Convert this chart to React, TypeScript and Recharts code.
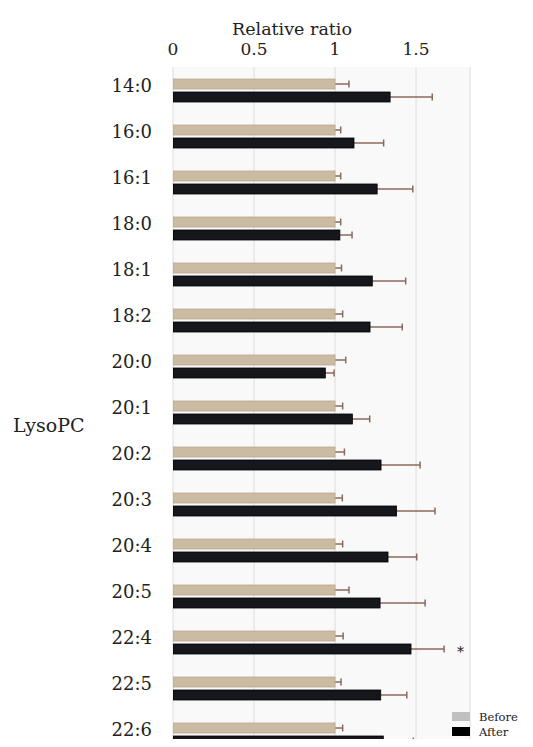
import { Bar, BarChart, CartesianGrid, XAxis, YAxis } from "recharts";

const categories = ["14:0", "16:0", "16:1", "18:0", "18:1", "18:2", "20:0", "20:1", "20:2", "20:3", "20:4", "20:5", "22:4", "22:5", "22:6"];
const beforeValues = [1, 1, 1, 1, 1, 1, 1, 1, 1, 1, 1, 1, 1, 1, 1];
const beforeErrors = [0.086, 0.035, 0.035, 0.035, 0.04, 0.047, 0.066, 0.047, 0.058, 0.045, 0.047, 0.086, 0.05, 0.037, 0.047];
const afterValues = [1.34, 1.117, 1.26, 1.03, 1.23, 1.216, 0.94, 1.107, 1.284, 1.38, 1.327, 1.278, 1.469, 1.282, 1.298];
const afterErrors = [0.26, 0.183, 0.22, 0.075, 0.206, 0.199, 0.054, 0.107, 0.241, 0.237, 0.177, 0.278, 0.204, 0.161, 0.185];
const significance = ["", "", "", "", "", "", "", "", "", "", "", "", "*", "", ""];
const xTicks = [0, 0.5, 1, 1.5];

const data = categories.map((name, i) => ({
  name,
  before: beforeValues[i],
  beforeErr: beforeErrors[i],
  after: afterValues[i],
  afterErr: afterErrors[i],
  sig: significance[i],
}));

const FONT = "'DejaVu Serif', serif";
const TEXT = "#222";
const ERR = "#8a6a5c";

function barWithError(errKey: "beforeErr" | "afterErr", valueKey: "before" | "after", stroke: string) {
  return (props: any) => {
    const { x, y, width, height, fill, payload } = props;
    const v = payload[valueKey];
    const e = payload[errKey];
    const cy = y + height / 2;
    const endX = x + width;
    const errX = x + (width * (v + e)) / v;
    return (
      <g>
        <line x1={endX} y1={cy} x2={errX} y2={cy} stroke={ERR} strokeWidth={1.5} />
        <line x1={errX} y1={cy - 3.5} x2={errX} y2={cy + 3.5} stroke={ERR} strokeWidth={1.5} />
        <rect x={x} y={y} width={width} height={height} fill={fill} stroke={stroke} strokeWidth={0.8} />
        {payload.sig && valueKey === "after" ? (
          <text x={errX + 13} y={cy + 8} style={{ fontFamily: FONT, fontSize: 14 }} fill={TEXT}>
            {payload.sig}
          </text>
        ) : null}
      </g>
    );
  };
}

function CategoryTick({ x, y, payload }: any) {
  return (
    <text x={x} y={y} dy={2} textAnchor="end" style={{ fontFamily: FONT, fontSize: 18 }} fill={TEXT}>
      {payload.value}
    </text>
  );
}

function LegendBox() {
  const row = (color: string, label: string) => (
    <div style={{ display: "flex", alignItems: "center", height: 15 }}>
      <span style={{ display: "inline-block", width: 18, height: 9, background: color, marginRight: 9 }} />
      <span style={{ fontFamily: FONT, fontSize: 11.5, color: TEXT }}>{label}</span>
    </div>
  );
  return (
    <div style={{ position: "absolute", left: 444, top: 701 }}>
      {row("#c0c0c0", "Before")}
      {row("#000", "After")}
    </div>
  );
}

function AxisTitles() {
  return (
    <svg
      width={525}
      height={731}
      style={{ position: "absolute", left: 0, top: 0, pointerEvents: "none" }}
    >
      <text x={284} y={27} textAnchor="middle" fontFamily="DejaVu Serif" fontSize={17.5} fill={TEXT}>
        Relative ratio
      </text>
      <text x={5} y={424} fontFamily="DejaVu Serif" fontSize={19} fill={TEXT}>
        LysoPC
      </text>
    </svg>
  );
}

export default function App() {
  return (
    <div style={{ position: "relative", width: 525, height: 731, overflow: "hidden" }}>
      <BarChart
        width={525}
        height={752}
        data={data}
        layout="vertical"
        margin={{ top: 0, right: 63, bottom: 3, left: 0 }}
        barSize={10}
        barGap={3}
      >
        <CartesianGrid horizontal={false} stroke="#dddddd" fill="#f9f9f9" />
        <XAxis
          type="number"
          orientation="top"
          domain={[0, 1.833]}
          ticks={xTicks}
          allowDataOverflow
          height={59}
          axisLine={false}
          tickLine={false}
          tickMargin={6}
          tick={{ style: { fontFamily: FONT, fontSize: 17 }, fill: TEXT }}
        />
        <YAxis
          type="category"
          dataKey="name"
          width={165}
          axisLine={false}
          tickLine={false}
          tickMargin={15}
          interval={0}
          tick={<CategoryTick />}
        />
        <Bar
          dataKey="before"
          name="Before"
          fill="#cbbba2"
          shape={barWithError("beforeErr", "before", "#bca98c")}
          isAnimationActive={false}
        />
        <Bar
          dataKey="after"
          name="After"
          fill="#16171c"
          shape={barWithError("afterErr", "after", "#000")}
          isAnimationActive={false}
        />
      </BarChart>
      <AxisTitles />
      <LegendBox />
    </div>
  );
}
